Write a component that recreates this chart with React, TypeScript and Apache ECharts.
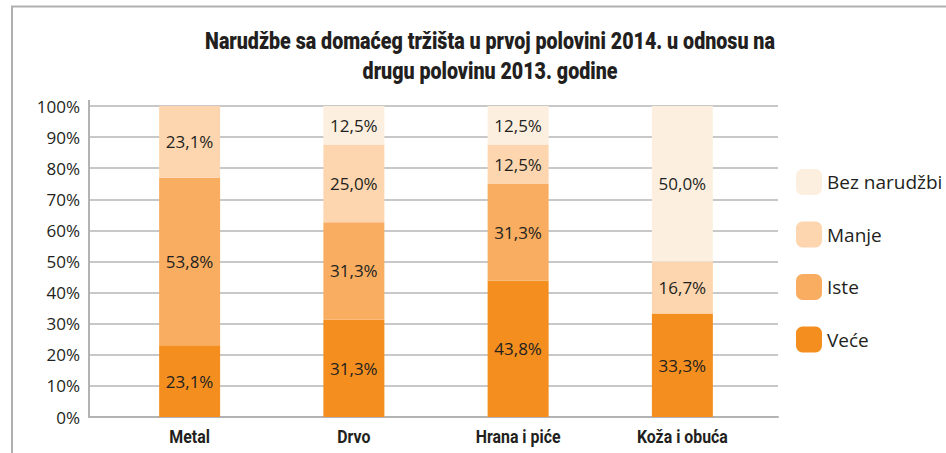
import React, { useEffect, useRef } from "react";
import * as echarts from "echarts";

const categories = ["Metal", "Drvo", "Hrana i piće", "Koža i obuća"];
const seriesNames = ["Veće", "Iste", "Manje", "Bez narudžbi"];
const vece = [23.1, 31.3, 43.8, 33.3];
const iste = [53.8, 31.3, 31.3, 0];
const manje = [23.1, 25.0, 12.5, 16.7];
const bez = [0, 12.5, 12.5, 50.0];
const colors = ["#F48F1F", "#F8AD60", "#FDD6AF", "#FDEFE0"];
const yTicks = [0, 10, 20, 30, 40, 50, 60, 70, 80, 90, 100];
const titleLines = [
  "Narudžbe sa domaćeg tržišta u prvoj polovini 2014. u odnosu na",
  "drugu polovinu 2013. godine",
];

const FONT = "'Open Sans', 'Noto Sans', sans-serif";
const BOLD = "Roboto, 'Liberation Sans', sans-serif";

function measure(text: string, font: string): number {
  const c = document.createElement("canvas");
  const ctx = c.getContext("2d");
  if (!ctx) return 1;
  ctx.font = font;
  return ctx.measureText(text).width || 1;
}

export default function App() {
  const ref = useRef<HTMLDivElement>(null);
  useEffect(() => {
    if (!ref.current) return;
    const chart = echarts.init(ref.current, null, { renderer: "svg" });
    const values = [vece, iste, manje, bez];
    const titleFont = `900 24px ${BOLD}`;
    const titleScale = 570 / measure(titleLines[0], titleFont);
    const catFont = `bold 18px ${BOLD}`;
    const catScale = 91 / measure("Koža i obuća", catFont);

    const option: any = {
      animation: false,
      backgroundColor: "#ffffff",
      textStyle: { fontFamily: FONT },
      grid: [
        { left: 89, top: 106, width: 689, height: 311, containLabel: false },
        { left: 107.5, top: 106, width: 657, height: 311, containLabel: false },
      ],
      legend: {
        orient: "vertical",
        left: 791,
        top: 164,
        itemWidth: 26,
        itemHeight: 26,
        itemGap: 26.5,
        data: ["Bez narudžbi", "Manje", "Iste", "Veće"],
        textStyle: { fontFamily: FONT, fontSize: 19, color: "#231f20", padding: [0, 0, 0, 0] },
      },
      xAxis: [
        {
          type: "category",
          gridIndex: 0,
          data: [""],
          axisLine: { show: true, lineStyle: { color: "#b3b3b3", width: 2 } },
          axisTick: { show: false },
          axisLabel: { show: false },
        },
        {
          type: "category",
          gridIndex: 1,
          data: categories,
          axisLine: { show: false },
          axisTick: { show: false },
          axisLabel: { show: false },
        },
      ],
      yAxis: [
        {
          type: "value",
          gridIndex: 0,
          min: yTicks[0],
          max: yTicks[yTicks.length - 1],
          interval: 10,
          axisLine: { show: true, lineStyle: { color: "#b3b3b3", width: 2 } },
          axisTick: { show: false },
          axisLabel: {
            formatter: "{value}%",
            fontFamily: FONT,
            fontSize: 17,
            color: "#231f20",
            margin: 9,
          },
          splitLine: { show: true, lineStyle: { color: "#c8c8c8", width: 2 } },
        },
        {
          type: "value",
          gridIndex: 1,
          min: 0,
          max: 100,
          show: false,
        },
      ],
      series: seriesNames.map((name, i) => ({
        name,
        type: "bar",
        stack: "total",
        xAxisIndex: 1,
        yAxisIndex: 1,
        barWidth: 61,
        data: values[i],
        itemStyle: { color: colors[i] },
        label: {
          show: true,
          position: "inside",
          fontFamily: FONT,
          fontSize: 17,
          color: "#231f20",
          formatter: (p: any) =>
            p.value > 0 ? p.value.toFixed(1).replace(".", ",") + "%" : "",
        },
      })),
    };
    chart.setOption(option);

    const catTexts = categories.map((c) => {
      const px = chart.convertToPixel({ xAxisIndex: 1 } as any, c) as any;
      return {
        type: "text",
        x: px,
        y: 446,
        scaleX: catScale,
        style: {
          text: c,
          font: catFont,
          textAlign: "center",
          textVerticalAlign: "bottom",
          fill: "#231f20",
        },
      };
    });

    chart.setOption({
      graphic: [
        {
          type: "rect",
          shape: { x: 12, y: 6.5, width: 1200, height: 1200 },
          style: { fill: "none", stroke: "#b0b0b0", lineWidth: 2 },
          silent: true,
        },
        {
          type: "line",
          shape: { x1: 89, y1: 100, x2: 89, y2: 107 },
          style: { stroke: "#b3b3b3", lineWidth: 2 },
        },
        ...titleLines.map((t, i) => ({
          type: "text",
          x: 490,
          y: 53 + i * 30,
          scaleX: titleScale,
          style: {
            text: t,
            font: titleFont,
            textAlign: "center",
            textVerticalAlign: "bottom",
            fill: "#231f20",
          },
        })),
        ...catTexts,
      ],
    });
    return () => chart.dispose();
  }, []);
  return (
    <div
      ref={ref}
      style={{ position: "absolute", left: 0, top: 0, width: 946, height: 453 }}
    />
  );
}
